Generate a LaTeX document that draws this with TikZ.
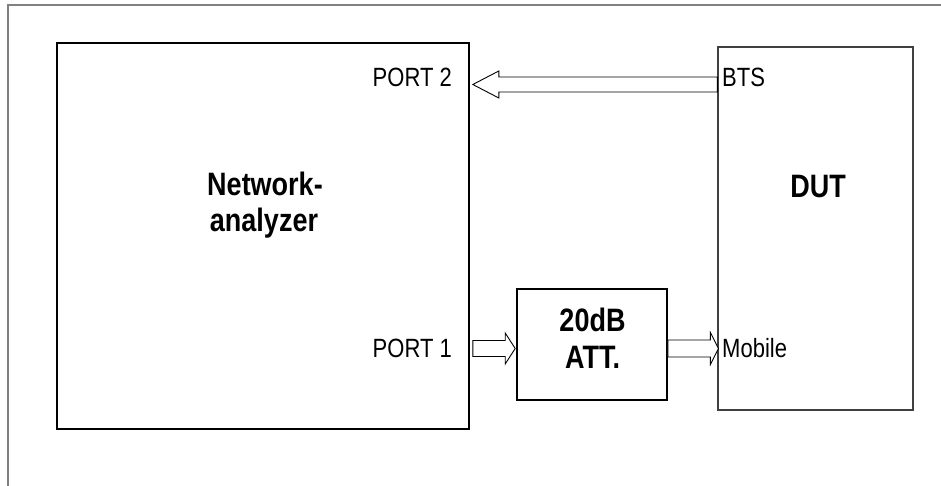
\documentclass[tikz,border=0pt]{standalone}
\usepackage{fontspec}
\usepackage{graphicx}
\setmainfont{Liberation Sans}
\usetikzlibrary{calc}
\newcommand\tallt[1]{\scalebox{1}[1.2]{#1}}
\begin{document}
\begin{tikzpicture}[x=1pt,y=-1pt,
  frameline/.style={draw=black!50,line width=1.6pt},
  boxA/.style={draw=black,line width=1.6pt,rectangle,inner sep=0pt},
  boxD/.style={draw=black!75,line width=1.2pt,rectangle,inner sep=0pt},
  lbl/.style={inner sep=0pt,font=\fontsize{22}{26}\selectfont},
  blbl/.style={inner sep=0pt,font=\fontsize{27}{32}\selectfont\bfseries},
  blk/.style={draw=black,line width=0.9pt,fill=white,line join=miter}]
\useasboundingbox (0,0) rectangle (941,486);
% outer frame
\coordinate (fr1) at (941,5);
\coordinate (fr2) at (8,5);
\coordinate (fr3) at (8,486);
\draw[frameline] (fr1) -- (fr2) -- (fr3);
% boxes
\node[boxA,minimum width=412pt,minimum height=386pt] (na) at (263,236) {};
\node[boxD,minimum width=195pt,minimum height=363pt] (dut) at (815.5,228.5) {};
\node[boxA,minimum width=150pt,minimum height=111pt] (att) at (592,344.5) {};
% box texts
\node[blbl,anchor=base] (nal1) at (265,196) {\tallt{Network-}};
\node[blbl,anchor=base] (nal2) at (264,232) {\tallt{analyzer}};
\node[blbl,anchor=base] (dutl) at (818,198) {\tallt{DUT}};
\node[blbl,anchor=base] (attl1) at (592.5,331) {\tallt{20dB}};
\node[blbl,anchor=base] (attl2) at (592.5,368) {\tallt{ATT.}};
% port labels
\node[lbl,anchor=base east] (p2) at (452,87) {\tallt{PORT 2}};
\node[lbl,anchor=base east] (p1) at (452,357) {\tallt{PORT 1}};
\node[lbl,anchor=base west] (bts) at (722,87) {\tallt{BTS}};
\node[lbl,anchor=base west] (mob) at (722,357) {\tallt{Mobile}};
% arrow reference heights
\coordinate (ya) at (0,84.5);
\coordinate (yb) at (0,348.5);
% BTS -> PORT 2
\coordinate (a2t) at (dut.west |- ya);
\coordinate (a2h) at ($(na.east |- ya)+(3,0)$);
\draw[blk] let \p1=(a2t), \p2=(a2h) in
  (\x1,\y1+7.5pt) -- (\x2+26pt,\y1+7.5pt) -- (\x2+26pt,\y1+13.5pt) -- (\x2,\y1)
  -- (\x2+26pt,\y1-13.5pt) -- (\x2+26pt,\y1-7.5pt) -- (\x1,\y1-7.5pt) -- cycle;
% PORT 1 -> ATT
\coordinate (a1t) at ($(na.east |- yb)+(3,0)$);
\coordinate (a1h) at ($(att.west |- yb)+(-1,0)$);
\draw[blk] let \p1=(a1t), \p2=(a1h) in
  (\x1,\y1+8pt) -- (\x2-10pt,\y1+8pt) -- (\x2-10pt,\y1+15.5pt) -- (\x2,\y1)
  -- (\x2-10pt,\y1-15.5pt) -- (\x2-10pt,\y1-8pt) -- (\x1,\y1-8pt) -- cycle;
% ATT -> Mobile
\coordinate (a3t) at (att.east |- yb);
\coordinate (a3h) at ($(dut.west |- yb)+(1,0)$);
\draw[blk] let \p1=(a3t), \p2=(a3h) in
  (\x1,\y1+8.5pt) -- (\x2-8pt,\y1+8.5pt) -- (\x2-8pt,\y1+16pt) -- (\x2,\y1)
  -- (\x2-8pt,\y1-16pt) -- (\x2-8pt,\y1-8.5pt) -- (\x1,\y1-8.5pt) -- cycle;
\end{tikzpicture}
\end{document}
